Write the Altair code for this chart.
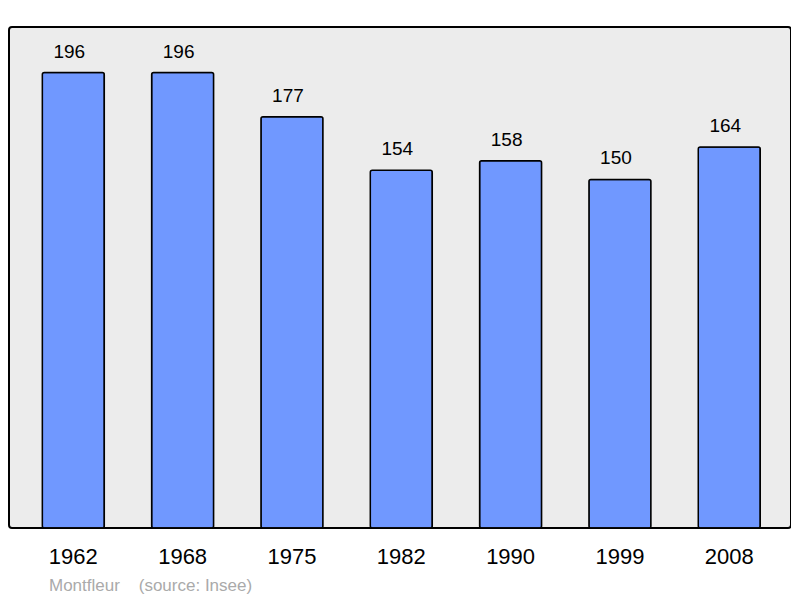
import altair as alt
import pandas as pd

years = ["1962", "1968", "1975", "1982", "1990", "1999", "2008"]
population = [196, 196, 177, 154, 158, 150, 164]

df = pd.DataFrame({"year": years, "pop": population})

FONT = "Liberation Sans"
NB = "\u00a0"

x = alt.X("year:N", sort=years,
          scale=alt.Scale(paddingInner=0.433, paddingOuter=0.293, align=0.52),
          axis=alt.Axis(title=None, ticks=False, domain=False, labelAngle=0,
                        labelFontSize=22, labelFont=FONT, labelColor="#000000",
                        labelPadding=35, labelBaseline="alphabetic"))
y = alt.Y("pop:Q", scale=alt.Scale(domain=[0, 215.6], nice=False, zero=True),
          axis=None)

bars = alt.Chart(df).mark_bar(color="#7098ff", stroke="#000000", strokeWidth=1.5,
                              cornerRadius=2).encode(x=x, y=y)
labels = alt.Chart(df).mark_text(fontSize=19, font=FONT, color="#000000",
                                 baseline="alphabetic", dy=-15, dx=-4).encode(
    x=alt.X("year:N", sort=years), y=y, text="pop:Q")

chart = (bars + labels).properties(
    width=782, height=501,
    background="#ffffff",
    autosize=alt.AutoSizeParams(type="none"),
    padding={"left": 1, "top": 19, "right": 0, "bottom": 66},
    title=alt.TitleParams("Montfleur" + NB * 4 + "(source: Insee)", orient="bottom",
                          anchor="start", dx=40, fontSize=17, font=FONT,
                          fontWeight="normal", color="#aaaaaa", offset=11),
).configure_view(fill="#ececec", stroke="#000000", strokeWidth=2, cornerRadius=3)

chart.save("out.html", embed_options={"renderer": "svg", "actions": False})
